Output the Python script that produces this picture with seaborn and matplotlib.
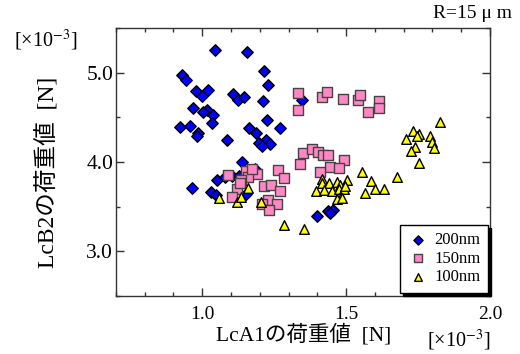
import numpy as np
import pandas as pd
import seaborn as sns
import matplotlib.pyplot as plt
from matplotlib.ticker import MultipleLocator

# data [x10^-3 N]
x200 = [1.044, 1.156, 0.929, 0.945, 1.215, 1.229, 0.978, 0.999, 1.021, 1.108,
        1.123, 1.144, 1.211, 1.346, 0.967, 1.015, 1.004, 1.039, 1.033, 1.224,
        0.921, 0.956, 0.985, 0.982, 1.085, 1.163, 1.187, 1.269, 1.223, 1.196,
        1.237, 1.209, 1.139, 1.183, 1.053, 1.079, 1.102, 1.129, 0.964, 1.029,
        1.049, 1.152, 1.400, 1.439, 1.455, 1.444]
y200 = [5.255, 5.229, 4.972, 4.920, 5.013, 4.857, 4.793, 4.741, 4.801, 4.756,
        4.696, 4.723, 4.685, 4.696, 4.603, 4.584, 4.562, 4.528, 4.436, 4.469,
        4.394, 4.399, 4.321, 4.294, 4.246, 4.383, 4.324, 4.377, 4.246, 4.209,
        4.201, 4.175, 3.997, 3.922, 3.799, 3.836, 3.840, 3.847, 3.706, 3.668,
        3.634, 3.637, 3.393, 3.456, 3.467, 3.427]

x150 = [1.334, 1.334, 1.417, 1.433, 1.491, 1.542, 1.549, 1.577, 1.614, 1.614,
        1.349, 1.380, 1.402, 1.419, 1.438, 1.340, 1.493, 1.445, 1.475, 1.411,
        1.263, 1.286, 1.214, 1.240, 1.271, 1.229, 1.208, 1.261, 1.232,
        1.153, 1.189, 1.160, 1.134, 1.122, 1.102, 1.131, 1.174, 1.090]
y150 = [4.768, 4.587, 4.732, 4.779, 4.704, 4.696, 4.748, 4.564, 4.683, 4.603,
        4.095, 4.140, 4.106, 4.078, 4.073, 3.980, 4.022, 3.941, 3.934, 3.883,
        3.911, 3.821, 3.726, 3.746, 3.676, 3.578, 3.527, 3.531, 3.464,
        3.899, 3.869, 3.832, 3.802, 3.701, 3.613, 3.765, 3.922, 3.855]

x100 = [1.554, 1.504, 1.588, 1.417, 1.416, 1.441, 1.467, 1.478, 1.396, 1.425,
        1.451, 1.476, 1.493, 1.497, 1.484, 1.470, 1.566, 1.599, 1.631, 1.676,
        1.286, 1.354, 1.825, 1.732, 1.752, 1.709, 1.748, 1.791, 1.800, 1.806,
        1.739, 1.725, 1.752, 1.160, 1.122, 1.059, 1.206, 1.134, 1.487]
y100 = [3.883, 3.802, 3.782, 3.810, 3.762, 3.762, 3.773, 3.746, 3.670, 3.687,
        3.670, 3.698, 3.698, 3.735, 3.609, 3.583, 3.650, 3.698, 3.698, 3.829,
        3.299, 3.248, 4.444, 4.346, 4.318, 4.259, 4.294, 4.287, 4.220, 4.159,
        4.173, 4.120, 3.987, 3.707, 3.556, 3.596, 3.553, 3.609, 3.598]

labels = ['200nm', '150nm', '100nm']

sns.set_style('ticks')
plt.rcParams['font.family'] = ['Liberation Serif', 'Noto Sans CJK JP']
plt.rcParams['mathtext.fontset'] = 'stix'
plt.rcParams['text.color'] = 'black'
plt.rcParams['xtick.labelcolor'] = 'black'
plt.rcParams['ytick.labelcolor'] = 'black'

fig = plt.figure(figsize=(5.2, 3.54), dpi=100)
ax = fig.add_axes([0.223, 0.164, 0.719, 0.757])

series = [
    (x200, y200, labels[0], 'D', '#0000ff', 34),
    (x150, y150, labels[1], 's', '#ff88c4', 42),
    (x100, y100, labels[2], '^', '#ffff00', 48),
]
for xs, ys, lab, mk, col, sz in series:
    df = pd.DataFrame({'x': xs, 'y': ys})
    edge = '#444444' if mk == 's' else 'black'
    sns.scatterplot(data=df, x='x', y='y', ax=ax, marker=mk, color=col,
                    s=sz, edgecolor=edge, linewidth=1, label=lab, zorder=3)

ax.set_xlim(0.7, 2.0)
ax.set_ylim(2.5, 5.5)
ax.xaxis.set_minor_locator(MultipleLocator(0.1))
ax.yaxis.set_minor_locator(MultipleLocator(0.5))
ax.tick_params(which='both', direction='in', top=True, right=True, color='#333333')
ax.tick_params(which='major', length=6, width=1)
ax.tick_params(which='minor', length=3, width=1)
ax.tick_params(axis='x', labelsize=14, pad=7)
ax.tick_params(axis='y', labelsize=15.5, pad=2)
ax.set_xticks([1.0, 1.5, 2.0])
ax.set_xticklabels(['1.0', '1.5', '2.0'])
ax.set_yticks([3.0, 4.0, 5.0])
ax.set_yticklabels(['3.0', '4.0', '5.0'])
for sp in ax.spines.values():
    sp.set_color('#333333')
    sp.set_linewidth(1)
ax.set_xlabel('')
ax.set_ylabel('')

fig.text(304/520, 1-335/354, 'LcA1の荷重値  [N]', ha='center', va='center', fontsize=15.5)
fig.text(48/520, 1-172/354, 'LcB2の荷重値  [N]', ha='center', va='center',
         fontsize=17, rotation=90)
fig.text(0.985, 0.963, 'R=15 μ m', ha='right', va='center', fontsize=14)
fig.text(14/520, 1-40/354, '[×10$^{-3}$]', ha='left', va='center', fontsize=14.5)
fig.text(490/520, 1-340/354, '[×10$^{-3}$]', ha='right', va='center', fontsize=14.5)

leg = ax.legend(loc='lower right', bbox_to_anchor=(0.995, 0.012), borderaxespad=0,
                fontsize=12, frameon=True, fancybox=False, shadow={'color': 'black', 'alpha': 1},
                handlelength=1.2, handletextpad=0.4, labelspacing=0.15,
                borderpad=0.45, markerscale=0.8)
leg.get_frame().set_edgecolor('black')
leg.get_frame().set_linewidth(1)

fig.savefig('out.png', dpi=100)
